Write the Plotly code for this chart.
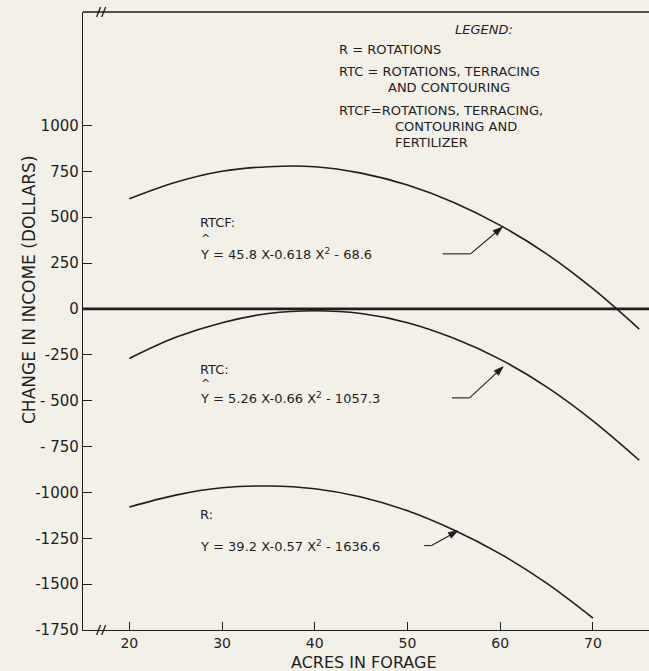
import math
import plotly.graph_objects as go

# ---- data ----
x_rtcf = [20, 25, 30, 35, 40, 45, 50, 55, 60, 65, 70, 75]
y_rtcf = [600, 690, 750, 775, 775, 740, 675, 580, 455, 300, 110, -110]

x_rtc = [20, 25, 30, 35, 40, 45, 50, 55, 60, 65, 70, 75]
y_rtc = [-270, -155, -75, -25, -10, -25, -75, -160, -275, -425, -610, -825]

x_r = [20, 25, 30, 35, 40, 45, 50, 55, 60, 65, 70]
y_r = [-1080, -1015, -975, -965, -980, -1025, -1100, -1205, -1335, -1495, -1685]

x_ticks = [20, 30, 40, 50, 60, 70]
y_ticks = [1000, 750, 500, 250, 0, -250, -500, -750, -1000, -1250, -1500, -1750]
y_ticktext = ["1000", "750", "500", "250", "0", "-250", "- 500", "- 750",
              "-1000", "-1250", "-1500", "-1750"]

legend_title = "LEGEND:"
legend_lines = ["R = ROTATIONS",
                "RTC = ROTATIONS, TERRACING",
                "AND CONTOURING",
                "RTCF=ROTATIONS, TERRACING,",
                "CONTOURING AND",
                "FERTILIZER"]

INK = "#1e1e1e"
BG = "#f3f0e8"
FONT = "DejaVu Sans"

XMIN, XMAX = 15.0, 76.05
YMIN, YMAX = -1750, 1618

# plot area in pixels (for placing free text)
L, R_, T, B = 83, 649, 12, 630
SX = (R_ - L) / (XMAX - XMIN)      # px per x unit
SY = (B - T) / (YMAX - YMIN)       # px per y unit
def px(xp):
    return (xp - L) / (R_ - L)
def py(yp):
    return (B - yp) / (B - T)

fig = go.Figure()
for xs, ys in [(x_rtcf, y_rtcf), (x_rtc, y_rtc), (x_r, y_r)]:
    fig.add_trace(go.Scatter(x=xs, y=ys, mode="lines",
                             line=dict(color=INK, width=1.6, shape="spline"),
                             hoverinfo="skip"))

shapes = []
# zero line
shapes.append(dict(type="line", xref="x", yref="y", x0=XMIN, x1=XMAX, y0=0, y1=0,
                   line=dict(color=INK, width=2.6)))
# top border
shapes.append(dict(type="line", xref="paper", yref="paper", x0=0, x1=1, y0=1, y1=1,
                   line=dict(color=INK, width=1.4)))
# axis break marks (top and bottom)
def brk(yy):
    out = []
    for dx in (0.0, 0.009):
        out.append(dict(type="line", xref="paper", yref="paper",
                        x0=0.024 + dx, x1=0.031 + dx, y0=yy - 0.008, y1=yy + 0.008,
                        line=dict(color=INK, width=1.3)))
    return out
shapes += brk(1.0)
shapes += brk(0.0)

annotations = []
# legend block
annotations.append(dict(x=px(484), y=py(30), xref="paper", yref="paper",
                        text="<i>" + legend_title + "</i>", showarrow=False,
                        xanchor="center", yanchor="middle",
                        font=dict(size=13, color=INK, family=FONT)))
ys_leg = [49, 72, 88, 110, 126, 142]
xs_leg = [337, 337, 386, 337, 393, 393]
for txt, yy, xx in zip(legend_lines, ys_leg, xs_leg):
    annotations.append(dict(x=px(xx), y=py(yy), xref="paper", yref="paper",
                            text=txt, showarrow=False, xanchor="left", yanchor="middle",
                            font=dict(size=13, color=INK, family=FONT)))

def arrow_shapes(corner, tip):
    """leader segment from corner to tip with a filled arrowhead at tip"""
    out = [dict(type="line", xref="x", yref="y", x0=corner[0], y0=corner[1],
                x1=tip[0], y1=tip[1], line=dict(color=INK, width=1.1))]
    dxp = (tip[0] - corner[0]) * SX
    dyp = (tip[1] - corner[1]) * SY
    n = math.hypot(dxp, dyp)
    ux, uy = dxp / n, dyp / n
    hl, hw = 9.0, 3.2
    bx, by = -ux * hl, -uy * hl
    p1 = (tip[0], tip[1])
    p2 = (tip[0] + (bx - uy * hw) / SX, tip[1] + (by + ux * hw) / SY)
    p3 = (tip[0] + (bx + uy * hw) / SX, tip[1] + (by - ux * hw) / SY)
    path = "M {} {} L {} {} L {} {} Z".format(p1[0], p1[1], p2[0], p2[1], p3[0], p3[1])
    out.append(dict(type="path", xref="x", yref="y", path=path, fillcolor=INK,
                    line=dict(color=INK, width=0.8)))
    return out

# equation labels
def eq_block(name, eq, hat, x0, y_name, y_eq, tip, corner, seg_start):
    annotations.append(dict(x=x0, y=y_name, xref="x", yref="y", text=name, showarrow=False,
                            xanchor="left", yanchor="middle",
                            font=dict(size=13, color=INK, family=FONT)))
    if hat:
        annotations.append(dict(x=x0 + 0.1, y=(y_name + y_eq) / 2, xref="x", yref="y", text="^",
                                showarrow=False, xanchor="left", yanchor="middle",
                                font=dict(size=11, color=INK, family=FONT)))
    annotations.append(dict(x=x0, y=y_eq, xref="x", yref="y", text=eq, showarrow=False,
                            xanchor="left", yanchor="middle",
                            font=dict(size=13, color=INK, family=FONT)))
    shapes.append(dict(type="line", xref="x", yref="y", x0=seg_start, x1=corner[0],
                       y0=corner[1], y1=corner[1], line=dict(color=INK, width=1.1)))
    shapes.extend(arrow_shapes(corner, tip))

eq_block("RTCF:", "Y = 45.8 X-0.618 X<sup>2</sup> - 68.6", True, 27.4, 470, 300,
         (60.2, 445), (56.8, 300), 53.8)
eq_block("RTC:", "Y = 5.26 X-0.66 X<sup>2</sup> - 1057.3", True, 27.4, -330, -485,
         (60.3, -316), (56.7, -485), 54.8)
eq_block("R:", "Y = 39.2 X-0.57 X<sup>2</sup> - 1636.6", False, 27.4, -1123, -1290,
         (55.4, -1210), (52.6, -1290), 51.8)

# axis titles
annotations.append(dict(x=px(29), y=py(290), xref="paper", yref="paper",
                        text="CHANGE IN INCOME (DOLLARS)", textangle=-90, showarrow=False,
                        xanchor="center", yanchor="middle",
                        font=dict(size=17, color=INK, family=FONT)))
annotations.append(dict(x=px(364), y=py(662), xref="paper", yref="paper",
                        text="ACRES IN FORAGE", showarrow=False,
                        xanchor="center", yanchor="middle",
                        font=dict(size=16, color=INK, family=FONT)))

fig.update_layout(
    width=649, height=671,
    margin=dict(l=L, r=649 - R_, t=T, b=671 - B),
    paper_bgcolor=BG, plot_bgcolor=BG,
    showlegend=False,
    shapes=shapes, annotations=annotations,
    font=dict(family=FONT, color=INK),
)
fig.update_xaxes(range=[XMIN, XMAX], tickvals=x_ticks, ticks="inside", ticklen=8,
                 tickcolor=INK, tickwidth=1.3, showline=True, linecolor=INK, linewidth=1.4,
                 showgrid=False, zeroline=False, tickfont=dict(size=14, color=INK, family=FONT))
fig.update_yaxes(range=[YMIN, YMAX], tickvals=y_ticks, ticktext=y_ticktext, ticks="inside",
                 ticklen=9, tickcolor=INK, tickwidth=1.3, showline=True, linecolor=INK,
                 linewidth=1.4, showgrid=False, zeroline=False,
                 tickfont=dict(size=15, color=INK, family=FONT))

fig.write_html("out.html")
